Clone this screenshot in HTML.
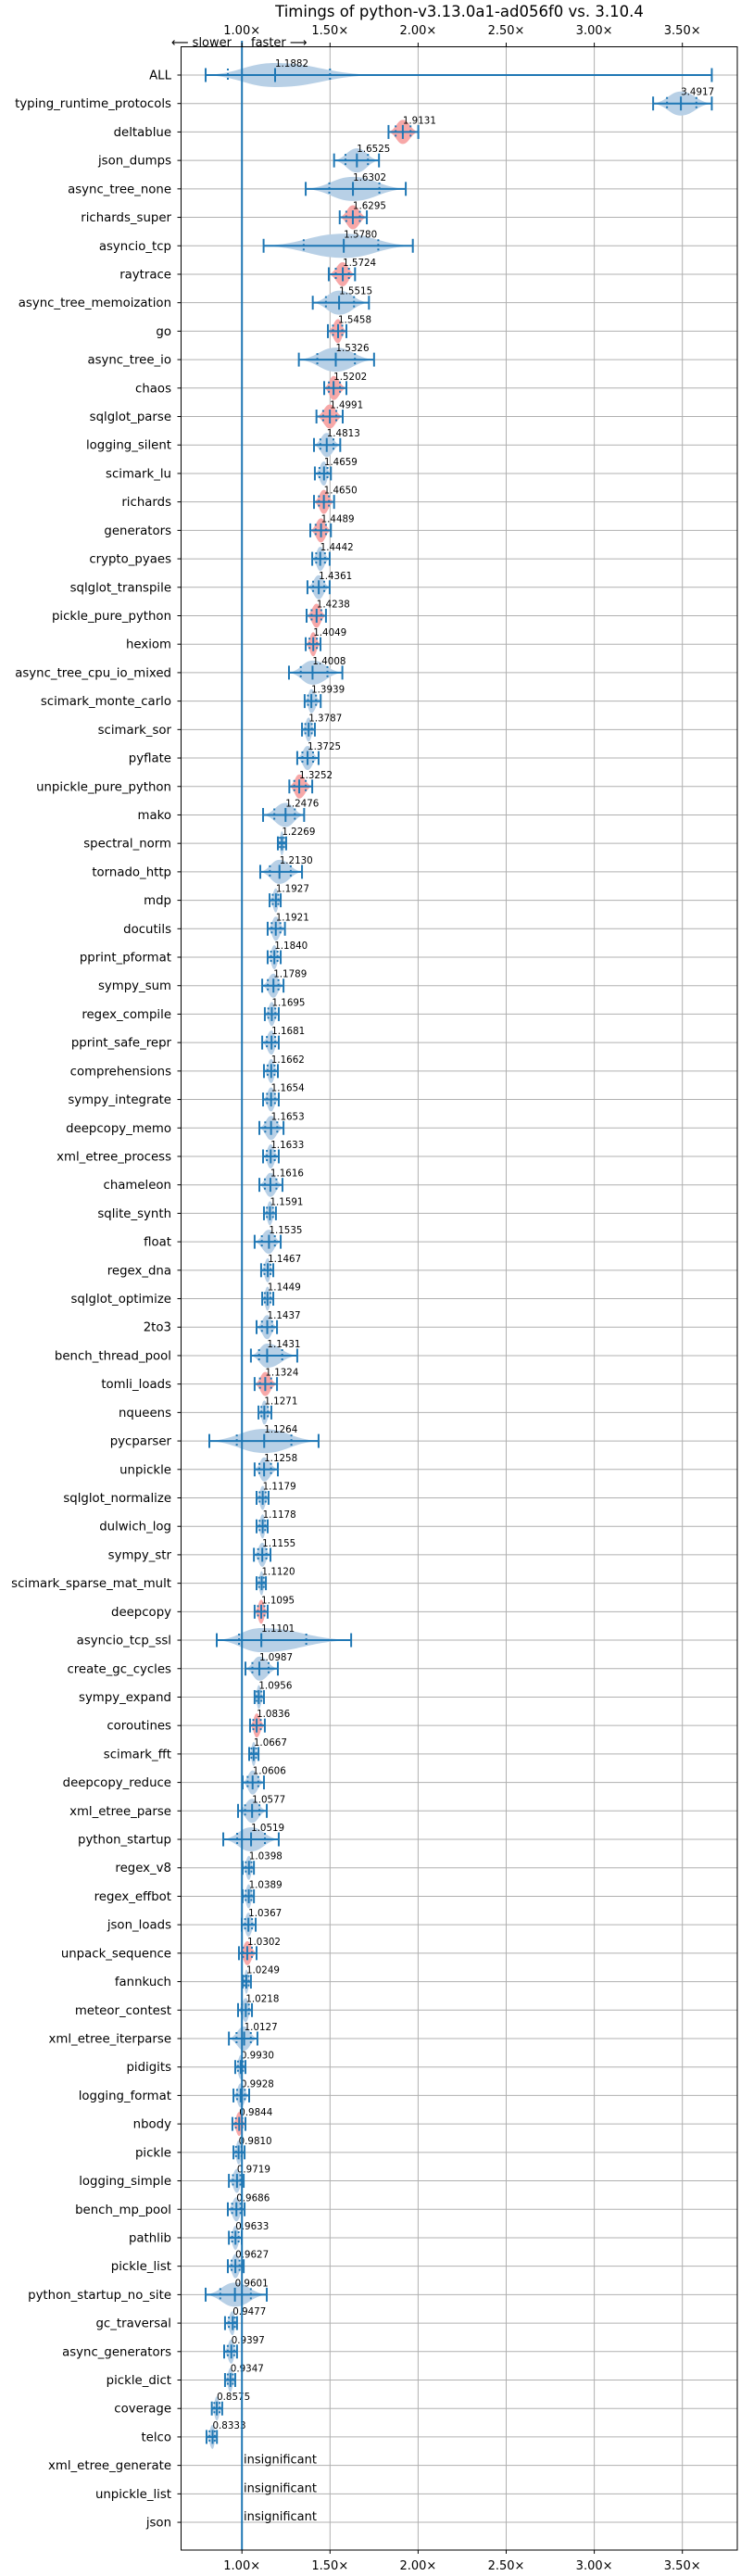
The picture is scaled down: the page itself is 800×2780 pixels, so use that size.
<!DOCTYPE html>
<html><head><meta charset="utf-8"><style>
html,body{margin:0;padding:0;background:#fff;}
svg{display:block;font-family:"DejaVu Sans","Liberation Sans",sans-serif;}
</style></head><body>
<svg id="chart" width="800" height="2780" viewBox="0 0 800 2780" xmlns="http://www.w3.org/2000/svg">
<text x="496" y="18" font-size="16.5" text-anchor="middle">Timings of python-v3.13.0a1-ad056f0 vs. 3.10.4</text>
<text x="250" y="50" font-size="13" text-anchor="end">⟵ slower</text>
<text x="271" y="50" font-size="13">faster ⟶</text>
<g id="grid"></g>
<g id="marks"></g>
<g id="labels"></g>
<g id="ticks"></g>
<rect x="195.5" y="50.5" width="600.5" height="2701.5" fill="none" stroke="#000" stroke-width="1"/>
</svg>
<script>
const names=["ALL","typing_runtime_protocols","deltablue","json_dumps","async_tree_none","richards_super","asyncio_tcp","raytrace","async_tree_memoization","go","async_tree_io","chaos","sqlglot_parse","logging_silent","scimark_lu","richards","generators","crypto_pyaes","sqlglot_transpile","pickle_pure_python","hexiom","async_tree_cpu_io_mixed","scimark_monte_carlo","scimark_sor","pyflate","unpickle_pure_python","mako","spectral_norm","tornado_http","mdp","docutils","pprint_pformat","sympy_sum","regex_compile","pprint_safe_repr","comprehensions","sympy_integrate","deepcopy_memo","xml_etree_process","chameleon","sqlite_synth","float","regex_dna","sqlglot_optimize","2to3","bench_thread_pool","tomli_loads","nqueens","pycparser","unpickle","sqlglot_normalize","dulwich_log","sympy_str","scimark_sparse_mat_mult","deepcopy","asyncio_tcp_ssl","create_gc_cycles","sympy_expand","coroutines","scimark_fft","deepcopy_reduce","xml_etree_parse","python_startup","regex_v8","regex_effbot","json_loads","unpack_sequence","fannkuch","meteor_contest","xml_etree_iterparse","pidigits","logging_format","nbody","pickle","logging_simple","bench_mp_pool","pathlib","pickle_list","python_startup_no_site","gc_traversal","async_generators","pickle_dict","coverage","telco","xml_etree_generate","unpickle_list","json"];
const medians=[1.1882,3.4917,1.9131,1.6525,1.6302,1.6295,1.5780,1.5724,1.5515,1.5458,1.5326,1.5202,1.4991,1.4813,1.4659,1.4650,1.4489,1.4442,1.4361,1.4238,1.4049,1.4008,1.3939,1.3787,1.3725,1.3252,1.2476,1.2269,1.2130,1.1927,1.1921,1.1840,1.1789,1.1695,1.1681,1.1662,1.1654,1.1653,1.1633,1.1616,1.1591,1.1535,1.1467,1.1449,1.1437,1.1431,1.1324,1.1271,1.1264,1.1258,1.1179,1.1178,1.1155,1.1120,1.1095,1.1101,1.0987,1.0956,1.0836,1.0667,1.0606,1.0577,1.0519,1.0398,1.0389,1.0367,1.0302,1.0249,1.0218,1.0127,0.9930,0.9928,0.9844,0.9810,0.9719,0.9686,0.9633,0.9627,0.9601,0.9477,0.9397,0.9347,0.8575,0.8333,null,null,null];
const mins=[0.794,3.334,1.832,1.523,1.362,1.555,1.123,1.493,1.402,1.488,1.323,1.467,1.423,1.409,1.414,1.409,1.388,1.399,1.372,1.367,1.362,1.267,1.356,1.341,1.314,1.269,1.120,1.204,1.104,1.157,1.146,1.146,1.115,1.130,1.115,1.125,1.120,1.099,1.120,1.099,1.125,1.072,1.109,1.115,1.083,1.051,1.072,1.094,0.815,1.072,1.083,1.083,1.068,1.083,1.072,0.857,1.020,1.072,1.046,1.041,1.004,0.978,0.894,1.004,1.004,0.999,0.983,1.004,0.978,0.926,0.962,0.952,0.946,0.952,0.926,0.920,0.926,0.920,0.794,0.904,0.899,0.904,0.829,0.799,null,null,null];
const maxs=[3.667,3.667,2.001,1.778,1.930,1.709,1.970,1.642,1.721,1.593,1.750,1.593,1.572,1.558,1.505,1.523,1.505,1.498,1.498,1.477,1.446,1.570,1.447,1.414,1.435,1.399,1.353,1.251,1.341,1.220,1.244,1.220,1.236,1.209,1.209,1.204,1.209,1.236,1.209,1.230,1.193,1.220,1.178,1.178,1.199,1.314,1.199,1.167,1.435,1.204,1.151,1.146,1.162,1.136,1.146,1.620,1.204,1.125,1.130,1.094,1.125,1.141,1.209,1.068,1.068,1.078,1.083,1.051,1.057,1.088,1.020,1.041,1.020,1.015,1.010,1.015,0.999,1.010,1.141,0.972,0.972,0.962,0.888,0.858,null,null,null];
const slowerFlags=["deltablue","richards_super","raytrace","go","chaos","sqlglot_parse","richards","generators","pickle_pure_python","hexiom","unpickle_pure_python","tomli_loads","deepcopy","coroutines","unpack_sequence","nbody"];
const allQuartiles=[0.92,1.50];
const xTicks=[1.0,1.5,2.0,2.5,3.0,3.5];
const xTickLabels=["1.00×","1.50×","2.00×","2.50×","3.00×","3.50×"];

const NS="http://www.w3.org/2000/svg";
const X0=195.5,X1=796,Y0=50,Y1=2752;
function xs(v){return 261.2+(v-1)*190.2;}
function ys(i){return 81+i*30.71;}
function mk(tag,attrs,parent){const e=document.createElementNS(NS,tag);for(const k in attrs)e.setAttribute(k,attrs[k]);parent.appendChild(e);return e;}
const grid=document.getElementById('grid'),marks=document.getElementById('marks'),labels=document.getElementById('labels'),ticks=document.getElementById('ticks');
const C="#1f77b4";
xTicks.forEach((t,k)=>{
  const x=xs(t);
  let g=mk('line',{x1:x,x2:x,y1:Y0,y2:Y1,stroke:'#b0b0b0','stroke-width':1},grid);
  
  mk('line',{x1:x,x2:x,y1:Y0-4,y2:Y0,stroke:'#000'},ticks);
  mk('line',{x1:x,x2:x,y1:Y1,y2:Y1+4,stroke:'#000'},ticks);
  let a=mk('text',{x:x,y:37,'font-size':13,'text-anchor':'middle'},ticks);a.textContent=xTickLabels[k];
  
  let b=mk('text',{x:x,y:2773,'font-size':13,'text-anchor':'middle'},ticks);b.textContent=xTickLabels[k];
  
});
names.forEach((n,i)=>{
  const y=ys(i);
  let g=mk('line',{x1:X0,x2:X1,y1:y,y2:y,stroke:'#b0b0b0','stroke-width':1},grid);
  
  mk('line',{x1:X0-4,x2:X0,y1:y,y2:y,stroke:'#000'},ticks);
  let t=mk('text',{x:185,y:y+4.5,'font-size':13.3,'text-anchor':'end'},labels);t.textContent=n;
  
  const m=medians[i];
  if(m===null){
    let s=mk('text',{x:263,y:y-2,'font-size':13},marks);s.textContent='insignificant';
    
    return;
  }
  const lo=mins[i],hi=maxs[i];
  const red=slowerFlags.includes(n);
  const xl=xs(lo),xm=xs(m),xh=xs(hi);
  const vh=i===0?xs(1.75):xh;
  const h=13;
  const d=`M${xl},${y} C${(xl+xm)/2},${y-2} ${xm-(xm-xl)*0.4},${y-h} ${xm},${y-h} C${xm+(vh-xm)*0.4},${y-h} ${(xm+vh)/2},${y-2} ${vh},${y} C${(xm+vh)/2},${y+2} ${xm+(vh-xm)*0.4},${y+h} ${xm},${y+h} C${xm-(xm-xl)*0.4},${y+h} ${(xl+xm)/2},${y+2} ${xl},${y} Z`;
  let v=mk('path',{d:d,fill:red?'#f7a8a8':'#b8d0e6'},marks);
  
  let w=mk('line',{x1:xl,x2:xh,y1:y,y2:y,stroke:C,'stroke-width':2},marks);
  
  [xl,xh,xm].forEach(x=>{mk('line',{x1:x,x2:x,y1:y-7.5,y2:y+7.5,stroke:C,'stroke-width':2},marks);});
  const qs=i===0?allQuartiles:[m-(m-lo)*0.5,m+(hi-m)*0.5];
  qs.forEach(q=>{mk('line',{x1:xs(q),x2:xs(q),y1:y-7,y2:y+7,stroke:C,'stroke-width':2,'stroke-dasharray':'2,3'},marks);});
  let a=mk('text',{x:xm,y:y-9,'font-size':10.3},marks);a.textContent=m.toFixed(4);
  
});
let ref=mk('line',{x1:xs(1),x2:xs(1),y1:Y0-6,y2:Y1,stroke:C,'stroke-width':2},marks);

</script>
</body></html>
